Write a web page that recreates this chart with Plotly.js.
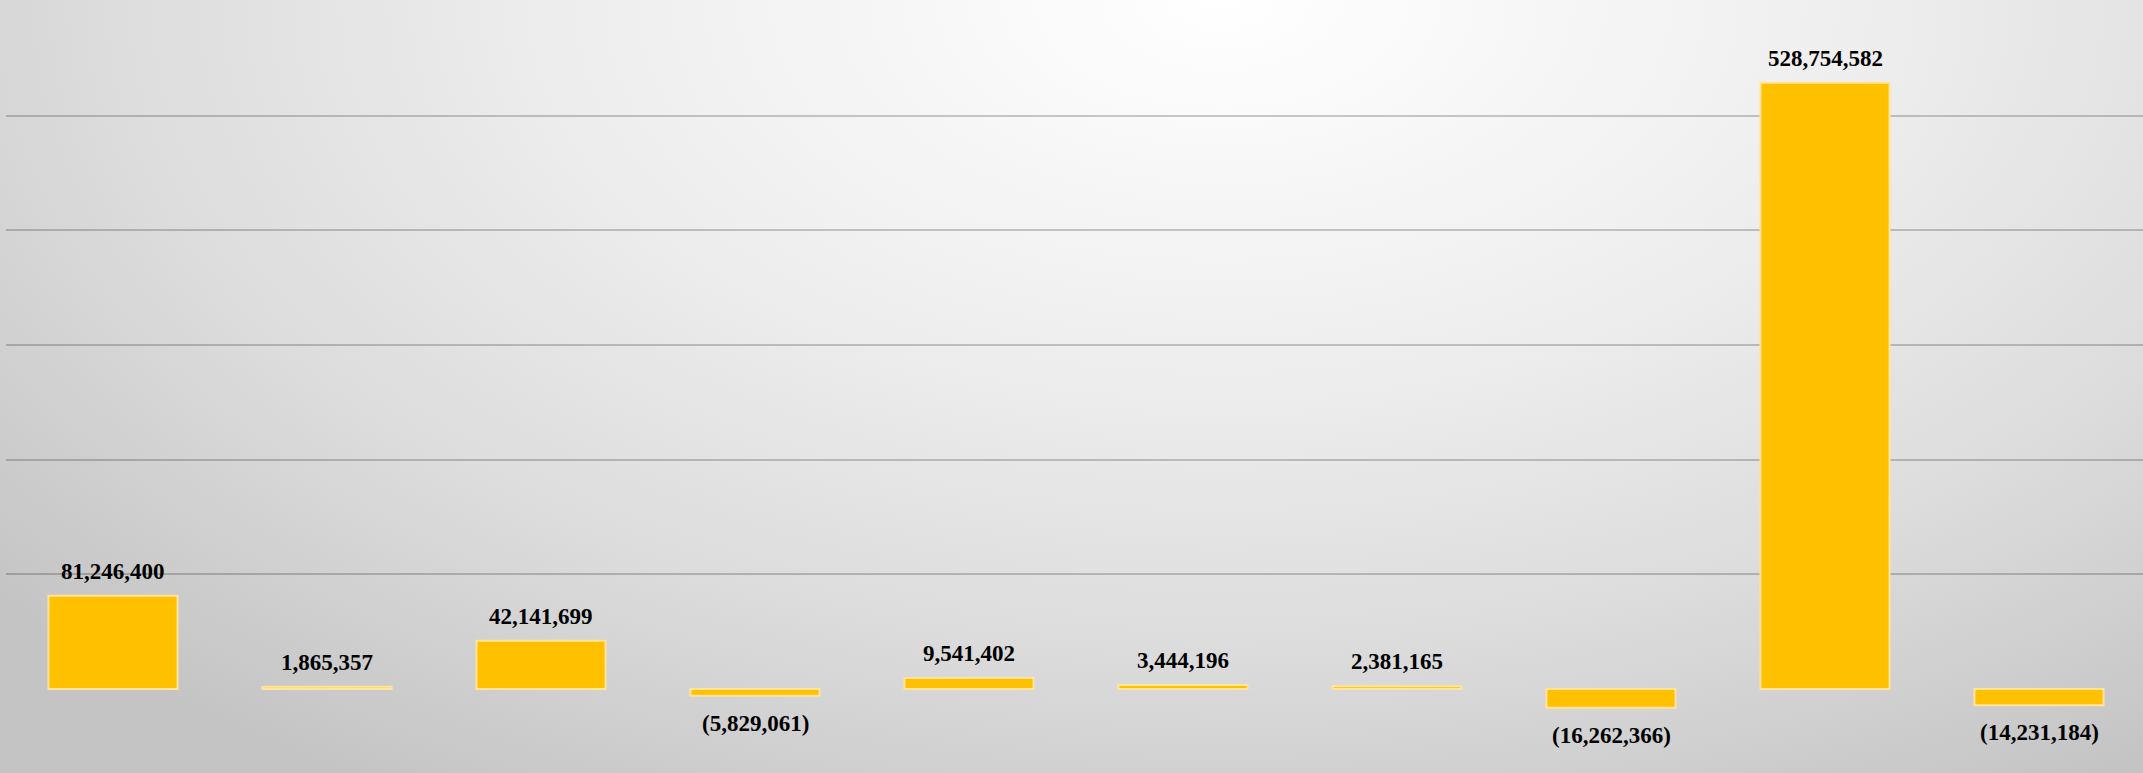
<!DOCTYPE html>
<html>
<head>
<meta charset="utf-8">
<script src="https://cdn.plot.ly/plotly-3.0.1.min.js"></script>
<style>
  html, body { margin: 0; padding: 0; width: 2143px; height: 773px; overflow: hidden; }
  body { background: radial-gradient(ellipse 75% 120% at 57% 0%, #ffffff 0%, #eeeeee 40%, #dcdcdc 70%, #c4c4c4 100%); }
  #chart { width: 2146px; height: 773px; }
</style>
</head>
<body>
<div id="chart"></div>
<script>
const categories = ["Item 1", "Item 2", "Item 3", "Item 4", "Item 5", "Item 6", "Item 7", "Item 8", "Item 9", "Item 10"];
const values = [81246400, 1865357, 42141699, -5829061, 9541402, 3444196, 2381165, -16262366, 528754582, -14231184];
const gridValues = [100000000, 200000000, 300000000, 400000000, 500000000, 600000000];

function fmt(v) {
  const s = Math.abs(v).toLocaleString('en-US');
  return v < 0 ? '(' + s + ')' : s;
}

const annotations = categories.map((c, i) => ({
  x: c,
  y: values[i],
  text: fmt(values[i]),
  showarrow: false,
  xanchor: 'center',
  yanchor: values[i] >= 0 ? 'bottom' : 'top',
  yshift: values[i] >= 0 ? 10 : -13,
  font: { family: 'Liberation Serif, Times New Roman, serif', size: 23, color: '#000000', weight: 'bold' }
}));

const trace = {
  type: 'bar',
  x: categories,
  y: values,
  marker: { color: '#FFC000', line: { color: '#FFE49A', width: 2 } },
  hoverinfo: 'none'
};

const layout = {
  width: 2146,
  height: 773,
  margin: { l: 6, r: 0, t: 1, b: 0 },
  paper_bgcolor: 'rgba(0,0,0,0)',
  plot_bgcolor: 'rgba(0,0,0,0)',
  bargap: 0.397,
  showlegend: false,
  xaxis: { showticklabels: false, showgrid: false, zeroline: false, showline: false, ticks: '' },
  yaxis: {
    range: [-73260000, 600000000],
    tickvals: gridValues,
    showticklabels: false,
    showgrid: true,
    gridcolor: 'rgba(0,0,0,0.2)',
    gridwidth: 2,
    zeroline: false,
    showline: false,
    ticks: ''
  },
  annotations: annotations
};

Plotly.newPlot('chart', [trace], layout, { displayModeBar: false, staticPlot: true });
</script>
</body>
</html>
